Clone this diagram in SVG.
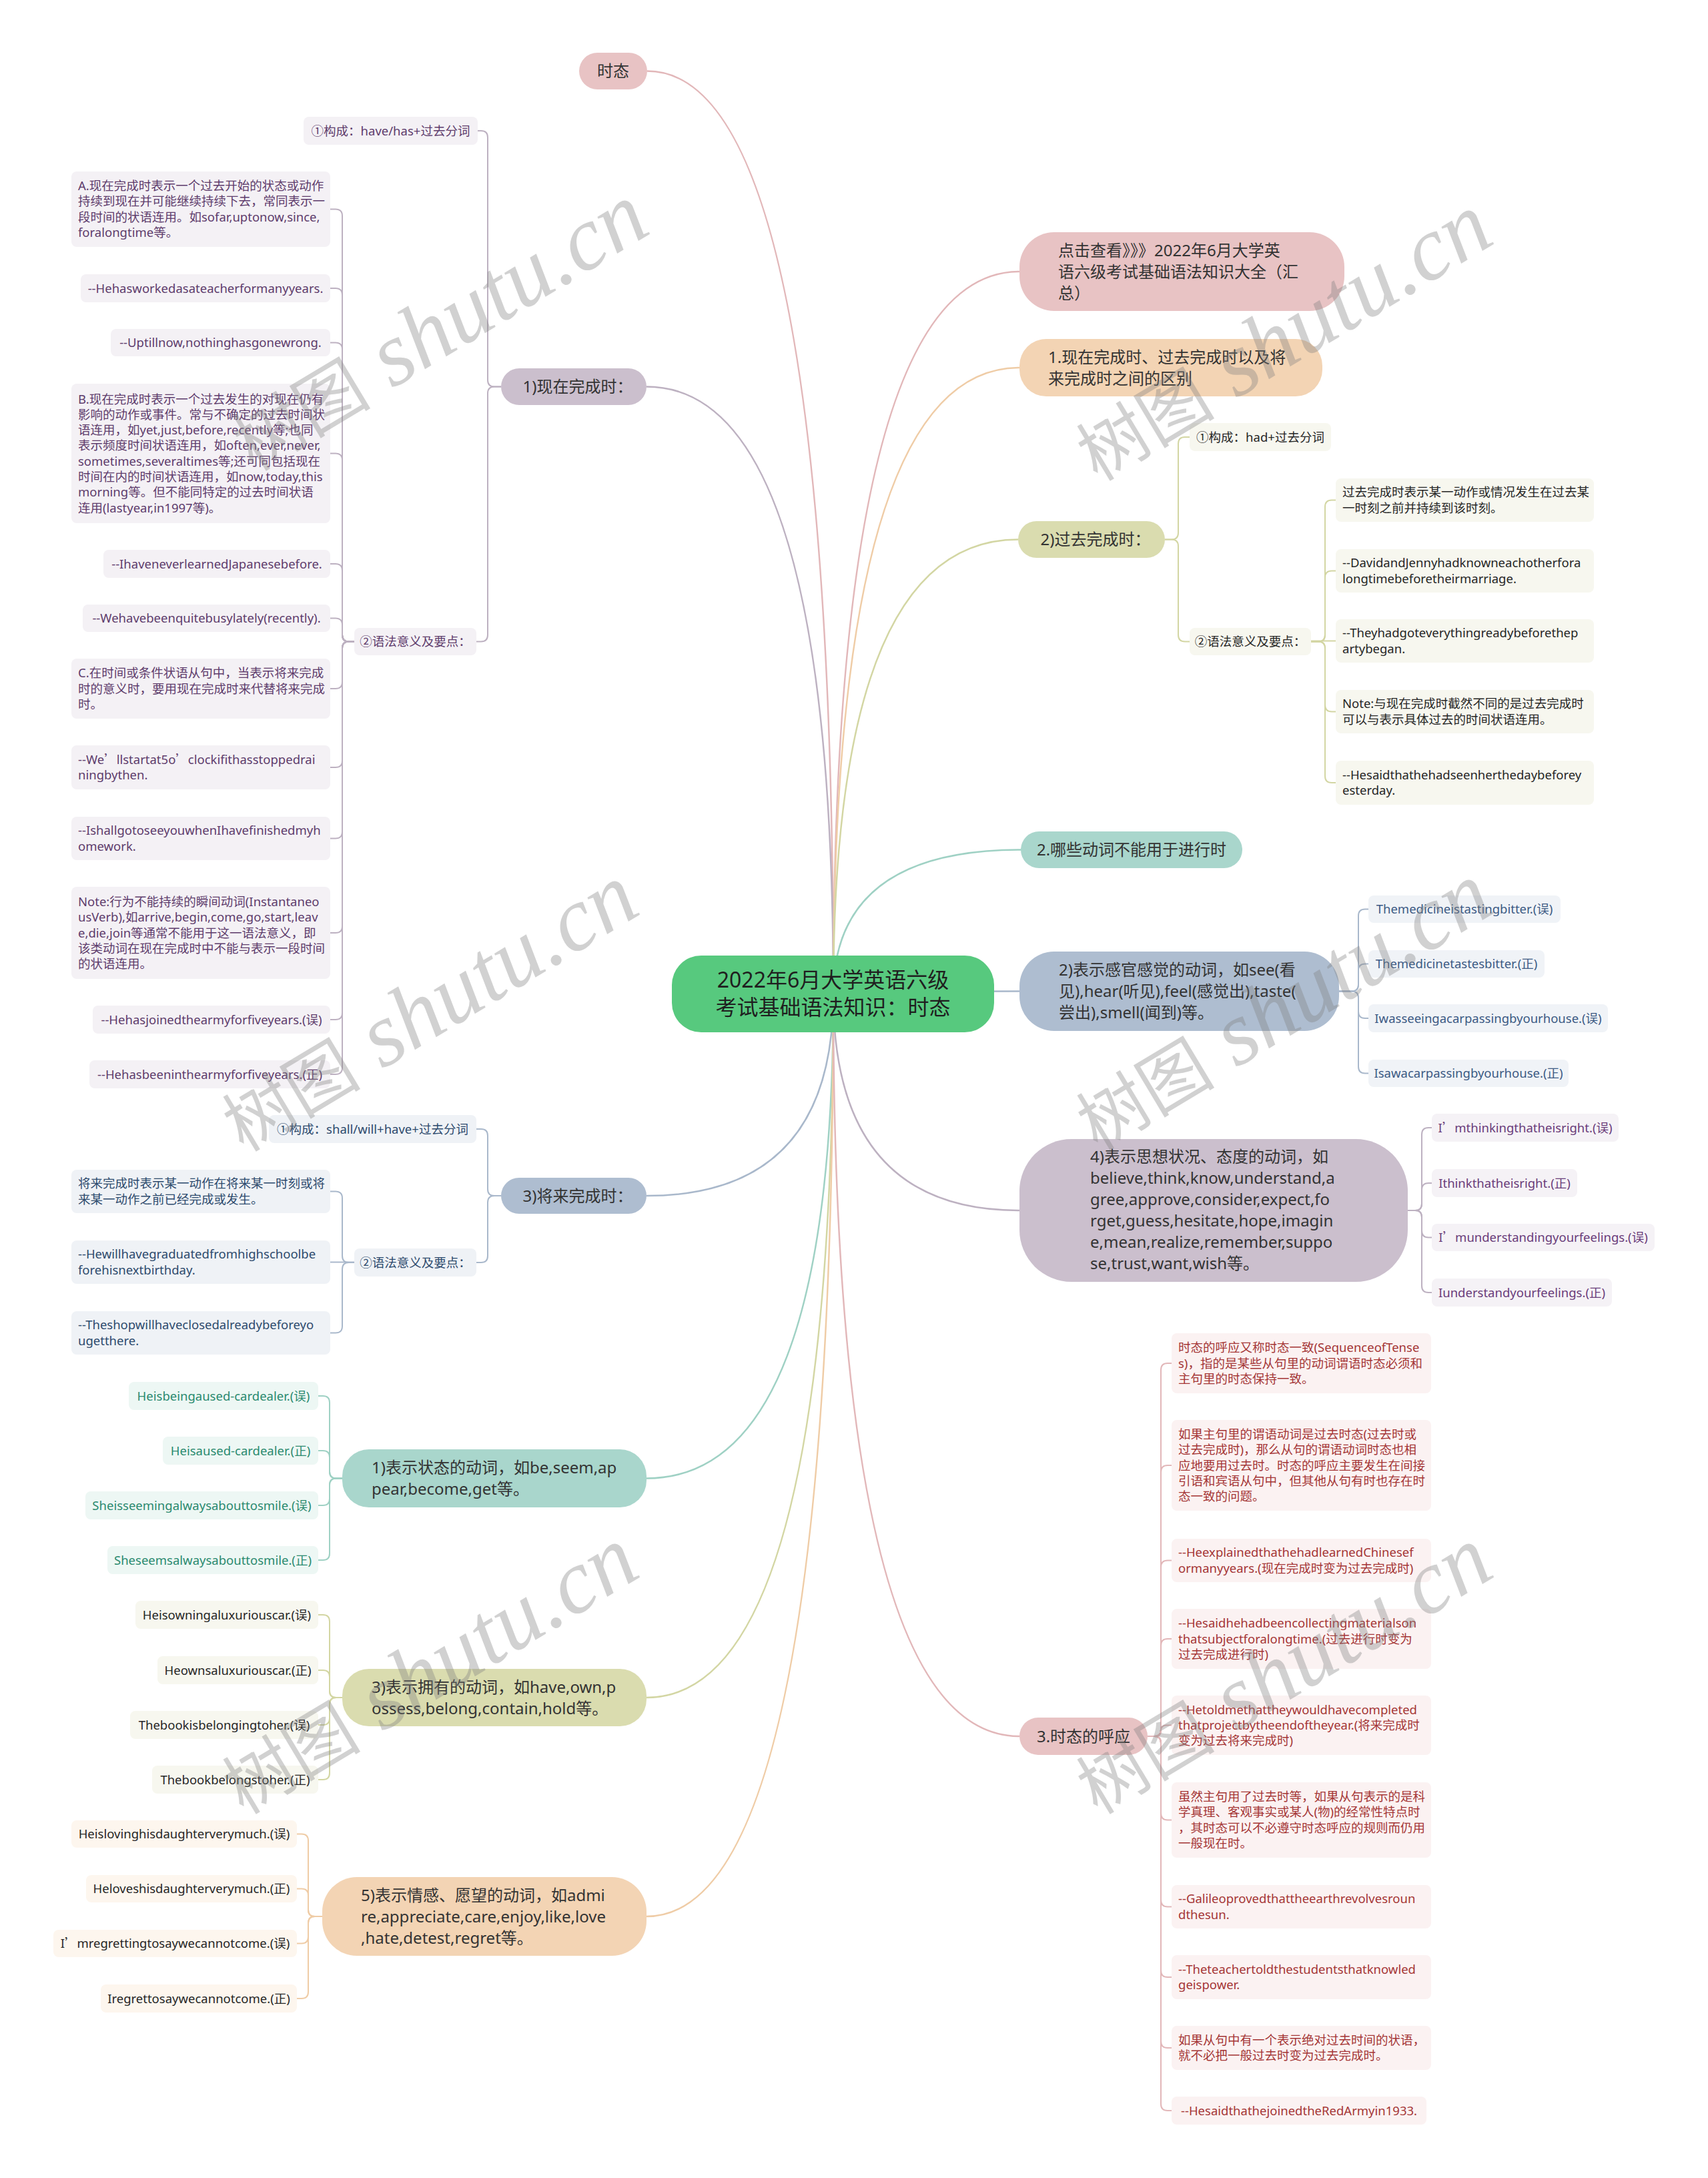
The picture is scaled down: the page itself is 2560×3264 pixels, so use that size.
<svg xmlns="http://www.w3.org/2000/svg" width="2560" height="3264" viewBox="0 0 2560 3264">
<style>
text{font-family:"Noto Sans","Noto Sans CJK SC",sans-serif}
.cj{font-family:"Noto Sans CJK SC",sans-serif}
.r{font-size:32px;fill:#1f1f1f;text-anchor:middle}
.m{font-size:24px;fill:#333}
.s{font-size:18.5px}
.mid{text-anchor:middle}
.ln{fill:none;stroke-width:2.5}
.sl{fill:none;stroke-width:2}
.f-root{fill:#57c97e}
.f-pink{fill:#e8c3c4}
.f-peach{fill:#f3d4b4}
.f-olive{fill:#dadcaf}
.f-teal{fill:#a9d6cc}
.f-slate{fill:#aebdd0}
.f-mauve{fill:#cbbfcd}
.l-pu{fill:#f4f1f5}.x-pu{fill:#5e3c6c}
.l-sl{fill:#eff2f6}.x-sl{fill:#2d4a6d}
.l-te{fill:#edf7f4}.x-te{fill:#2a8a6f}
.l-ol{fill:#f7f7ef}.x-dk{fill:#262626}
.l-pe{fill:#fdf6ee}
.l-s2{fill:#f0f3f7}.x-s2{fill:#3c5a84}
.l-mv{fill:#f5f2f6}.x-mv{fill:#6a3c7a}
.l-rd{fill:#fbf2f2}.x-rd{fill:#a53636}
.k-pink{stroke:#e2b7b9}.k-peach{stroke:#efcca6}.k-olive{stroke:#d3d6a3}.k-teal{stroke:#9fd1c4}.k-slate{stroke:#a9b8cb}.k-mauve{stroke:#bdb1c1}
.wm{fill:#808080;fill-opacity:.36}
.wa{font-family:"Noto Sans CJK SC",sans-serif;font-size:104px}
.wb{font-family:"Liberation Serif",serif;font-style:italic;font-size:136px}
</style>
<rect width="2560" height="3264" fill="#ffffff"/>

<g id="connectors">
  <path class="ln k-pink" d="M1249 1490 Q1249 106.5 970 106.5"/>
  <path class="ln k-mauve" d="M1249 1490 Q1249 579.5 969 579.5"/>
  <path class="ln k-slate" d="M1249 1490 Q1249 1792 969 1792"/>
  <path class="ln k-teal" d="M1249 1490 Q1249 2215.5 969 2215.5"/>
  <path class="ln k-olive" d="M1249 1490 Q1249 2544 969 2544"/>
  <path class="ln k-peach" d="M1249 1490 Q1249 2872 969 2872"/>
  <path class="ln k-pink" d="M1249 1490 Q1249 407 1528 407"/>
  <path class="ln k-peach" d="M1249 1490 Q1249 551 1528 551"/>
  <path class="ln k-olive" d="M1249 1490 Q1249 808.5 1526 808.5"/>
  <path class="ln k-teal" d="M1249 1490 Q1249 1273.5 1530 1273.5"/>
  <path class="ln k-slate" d="M1249 1490 Q1249 1485.5 1528 1485.5"/>
  <path class="ln k-mauve" d="M1249 1490 Q1249 1814 1528 1814"/>
  <path class="ln k-pink" d="M1249 1490 Q1249 2602 1528 2602"/>

  <path class="sl k-mauve" d="M751 579.5 H741 Q731 579.5 731 569.5 V206 Q731 196 721 196 H716"/>
  <path class="sl k-mauve" d="M751 579.5 H741 Q731 579.5 731 589.5 V951.5 Q731 961.5 721 961.5 H714"/>
  <path class="sl k-mauve" d="M531 961.5 H523 Q513 961.5 513 951.5 V323.5 Q513 313.5 503 313.5 H495"/>
  <path class="sl k-mauve" d="M531 961.5 H523 Q513 961.5 513 951.5 V442 Q513 432 503 432 H495"/>
  <path class="sl k-mauve" d="M531 961.5 H523 Q513 961.5 513 951.5 V523.5 Q513 513.5 503 513.5 H495"/>
  <path class="sl k-mauve" d="M531 961.5 H523 Q513 961.5 513 951.5 V689.5 Q513 679.5 503 679.5 H495"/>
  <path class="sl k-mauve" d="M531 961.5 H523 Q513 961.5 513 951.5 V855 Q513 845 503 845 H495"/>
  <path class="sl k-mauve" d="M531 961.5 H523 Q513 961.5 513 951.5 V936.5 Q513 926.5 503 926.5 H495"/>
  <path class="sl k-mauve" d="M531 961.5 H523 Q513 961.5 513 971.5 V1022 Q513 1032 503 1032 H495"/>
  <path class="sl k-mauve" d="M531 961.5 H523 Q513 961.5 513 971.5 V1140 Q513 1150 503 1150 H495"/>
  <path class="sl k-mauve" d="M531 961.5 H523 Q513 961.5 513 971.5 V1246.5 Q513 1256.5 503 1256.5 H495"/>
  <path class="sl k-mauve" d="M531 961.5 H523 Q513 961.5 513 971.5 V1388 Q513 1398 503 1398 H495"/>
  <path class="sl k-mauve" d="M531 961.5 H523 Q513 961.5 513 971.5 V1518 Q513 1528 503 1528 H495"/>
  <path class="sl k-mauve" d="M531 961.5 H523 Q513 961.5 513 971.5 V1600 Q513 1610 503 1610 H495"/>

  <path class="sl k-slate" d="M751 1792 H741 Q731 1792 731 1782 V1702 Q731 1692 721 1692 H714"/>
  <path class="sl k-slate" d="M751 1792 H741 Q731 1792 731 1802 V1882 Q731 1892 721 1892 H714"/>
  <path class="sl k-slate" d="M531 1892 H523 Q513 1892 513 1882 V1795.5 Q513 1785.5 503 1785.5 H495"/>
  <path class="sl k-slate" d="M531 1891.5 H495"/>
  <path class="sl k-slate" d="M531 1892 H523 Q513 1892 513 1902 V1987.5 Q513 1997.5 503 1997.5 H495"/>

  <path class="sl k-teal" d="M513 2215.5 H504 Q494 2215.5 494 2205.5 V2102 Q494 2092 484 2092 H477"/>
  <path class="sl k-teal" d="M513 2215.5 H504 Q494 2215.5 494 2205.5 V2184 Q494 2174 484 2174 H477"/>
  <path class="sl k-teal" d="M513 2215.5 H504 Q494 2215.5 494 2225.5 V2246 Q494 2256 484 2256 H477"/>
  <path class="sl k-teal" d="M513 2215.5 H504 Q494 2215.5 494 2225.5 V2328 Q494 2338 484 2338 H477"/>

  <path class="sl k-olive" d="M513 2544 H504 Q494 2544 494 2534 V2430 Q494 2420 484 2420 H477"/>
  <path class="sl k-olive" d="M513 2544 H504 Q494 2544 494 2534 V2513 Q494 2503 484 2503 H477"/>
  <path class="sl k-olive" d="M513 2544 H504 Q494 2544 494 2554 V2575 Q494 2585 484 2585 H477"/>
  <path class="sl k-olive" d="M513 2544 H504 Q494 2544 494 2554 V2657 Q494 2667 484 2667 H477"/>

  <path class="sl k-peach" d="M483 2872 H472 Q462 2872 462 2862 V2758.5 Q462 2748.5 452 2748.5 H445"/>
  <path class="sl k-peach" d="M483 2872 H472 Q462 2872 462 2862 V2840.5 Q462 2830.5 452 2830.5 H445"/>
  <path class="sl k-peach" d="M483 2872 H472 Q462 2872 462 2882 V2902.5 Q462 2912.5 452 2912.5 H445"/>
  <path class="sl k-peach" d="M483 2872 H472 Q462 2872 462 2882 V2985 Q462 2995 452 2995 H445"/>

  <path class="sl k-olive" d="M1746 808.5 H1756 Q1766 808.5 1766 798.5 V665 Q1766 655 1776 655 H1783"/>
  <path class="sl k-olive" d="M1746 808.5 H1756 Q1766 808.5 1766 818.5 V951.5 Q1766 961.5 1776 961.5 H1783"/>
  <path class="sl k-olive" d="M1965 961.5 H1976 Q1986 961.5 1986 951.5 V759.5 Q1986 749.5 1996 749.5 H2002"/>
  <path class="sl k-olive" d="M1965 961.5 H1976 Q1986 961.5 1986 951.5 V865.5 Q1986 855.5 1996 855.5 H2002"/>
  <path class="sl k-olive" d="M1965 960.5 H2002"/>
  <path class="sl k-olive" d="M1965 961.5 H1976 Q1986 961.5 1986 971.5 V1056.5 Q1986 1066.5 1996 1066.5 H2002"/>
  <path class="sl k-olive" d="M1965 961.5 H1976 Q1986 961.5 1986 971.5 V1163 Q1986 1173 1996 1173 H2002"/>

  <path class="sl k-slate" d="M2007 1485.5 H2026 Q2036 1485.5 2036 1475.5 V1372.5 Q2036 1362.5 2046 1362.5 H2051"/>
  <path class="sl k-slate" d="M2007 1485.5 H2026 Q2036 1485.5 2036 1475.5 V1454.5 Q2036 1444.5 2046 1444.5 H2051"/>
  <path class="sl k-slate" d="M2007 1485.5 H2026 Q2036 1485.5 2036 1495.5 V1516 Q2036 1526 2046 1526 H2051"/>
  <path class="sl k-slate" d="M2007 1485.5 H2026 Q2036 1485.5 2036 1495.5 V1598.5 Q2036 1608.5 2046 1608.5 H2051"/>

  <path class="sl k-mauve" d="M2110 1814 H2121 Q2131 1814 2131 1804 V1700 Q2131 1690 2141 1690 H2146"/>
  <path class="sl k-mauve" d="M2110 1814 H2121 Q2131 1814 2131 1804 V1783 Q2131 1773 2141 1773 H2146"/>
  <path class="sl k-mauve" d="M2110 1814 H2121 Q2131 1814 2131 1824 V1844.5 Q2131 1854.5 2141 1854.5 H2146"/>
  <path class="sl k-mauve" d="M2110 1814 H2121 Q2131 1814 2131 1824 V1927 Q2131 1937 2141 1937 H2146"/>

  <path class="sl k-pink" d="M1720 2602 H1730 Q1740 2602 1740 2592 V2053 Q1740 2043 1750 2043 H1756"/>
  <path class="sl k-pink" d="M1720 2602 H1730 Q1740 2602 1740 2592 V2206 Q1740 2196 1750 2196 H1756"/>
  <path class="sl k-pink" d="M1720 2602 H1730 Q1740 2602 1740 2592 V2348.5 Q1740 2338.5 1750 2338.5 H1756"/>
  <path class="sl k-pink" d="M1720 2602 H1730 Q1740 2602 1740 2592 V2466 Q1740 2456 1750 2456 H1756"/>
  <path class="sl k-pink" d="M1720 2602 H1732 Q1740 2602 1740 2594 Q1740 2585.5 1748 2585.5 H1756"/>
  <path class="sl k-pink" d="M1720 2602 H1730 Q1740 2602 1740 2612 V2717.5 Q1740 2727.5 1750 2727.5 H1756"/>
  <path class="sl k-pink" d="M1720 2602 H1730 Q1740 2602 1740 2612 V2847.5 Q1740 2857.5 1750 2857.5 H1756"/>
  <path class="sl k-pink" d="M1720 2602 H1730 Q1740 2602 1740 2612 V2953 Q1740 2963 1750 2963 H1756"/>
  <path class="sl k-pink" d="M1720 2602 H1730 Q1740 2602 1740 2612 V3059 Q1740 3069 1750 3069 H1756"/>
  <path class="sl k-pink" d="M1720 2602 H1730 Q1740 2602 1740 2612 V3153 Q1740 3163 1750 3163 H1756"/>
</g>

<g id="root">
  <rect class="f-root" x="1007" y="1432" width="483" height="115" rx="44"/>
  <text class="r" x="1248.5" y="1480">2022年6月大学英语六级</text>
  <text class="r" x="1248.5" y="1521">考试基础语法知识：时态</text>
</g>

<g id="n-shitai">
  <rect class="f-pink" x="868" y="79" width="102" height="55" rx="27.5"/>
  <text class="m mid" x="919" y="115">时态</text>
</g>
<g id="n-xianzai">
  <rect class="f-mauve" x="751" y="552" width="218" height="55" rx="27.5"/>
  <text class="m mid" x="866" y="588">1)现在完成时：</text>
</g>
<g id="n-jianglai">
  <rect class="f-slate" x="751" y="1765" width="218" height="54" rx="27"/>
  <text class="m mid" x="866" y="1800.5">3)将来完成时：</text>
</g>
<g id="n-zhuangtai">
  <rect class="f-teal" x="513" y="2172" width="456" height="87" rx="40"/>
  <text class="m" x="557" y="2208">1)表示状态的动词，如be,seem,ap</text>
  <text class="m" x="557" y="2240">pear,become,get等。</text>
</g>
<g id="n-yongyou">
  <rect class="f-olive" x="513" y="2501" width="456" height="86" rx="40"/>
  <text class="m" x="557" y="2536.5">3)表示拥有的动词，如have,own,p</text>
  <text class="m" x="557" y="2568.5">ossess,belong,contain,hold等。</text>
</g>
<g id="n-qinggan">
  <rect class="f-peach" x="483" y="2813" width="486" height="118" rx="52"/>
  <text class="m" x="541" y="2848.5">5)表示情感、愿望的动词，如admi</text>
  <text class="m" x="541" y="2880.5">re,appreciate,care,enjoy,like,love</text>
  <text class="m" x="541" y="2912.5">,hate,detest,regret等。</text>
</g>
<g id="n-dianji">
  <rect class="f-pink" x="1528" y="348" width="487" height="118" rx="52"/>
  <text class="m" x="1586" y="383.5">点击查看》》》2022年6月大学英</text>
  <text class="m" x="1586" y="415.5">语六级考试基础语法知识大全（汇</text>
  <text class="m" x="1586" y="447.5">总）</text>
</g>
<g id="n-qubie">
  <rect class="f-peach" x="1528" y="508" width="454" height="86" rx="40"/>
  <text class="m" x="1571" y="543.5">1.现在完成时、过去完成时以及将</text>
  <text class="m" x="1571" y="575.5">来完成时之间的区别</text>
</g>
<g id="n-guoqu">
  <rect class="f-olive" x="1526" y="781" width="220" height="55" rx="27.5"/>
  <text class="m mid" x="1642" y="817">2)过去完成时：</text>
</g>
<g id="n-naxie">
  <rect class="f-teal" x="1530" y="1246" width="332" height="55" rx="27.5"/>
  <text class="m mid" x="1696" y="1282">2.哪些动词不能用于进行时</text>
</g>
<g id="n-ganguan">
  <rect class="f-slate" x="1528" y="1426" width="479" height="119" rx="52"/>
  <text class="m" x="1587" y="1462">2)表示感官感觉的动词，如see(看</text>
  <text class="m" x="1587" y="1494">见),hear(听见),feel(感觉出),taste(</text>
  <text class="m" x="1587" y="1526">尝出),smell(闻到)等。</text>
</g>
<g id="n-sixiang">
  <rect class="f-mauve" x="1528" y="1707" width="582" height="214" rx="78"/>
  <text class="m" x="1634" y="1742.4">4)表示思想状况、态度的动词，如</text>
  <text class="m" x="1634" y="1774.4">believe,think,know,understand,a</text>
  <text class="m" x="1634" y="1806.4">gree,approve,consider,expect,fo</text>
  <text class="m" x="1634" y="1838.4">rget,guess,hesitate,hope,imagin</text>
  <text class="m" x="1634" y="1870.4">e,mean,realize,remember,suppo</text>
  <text class="m" x="1634" y="1902.4">se,trust,want,wish等。</text>
</g>
<g id="n-huying">
  <rect class="f-pink" x="1528" y="2574" width="192" height="56" rx="28"/>
  <text class="m mid" x="1624" y="2610.5">3.时态的呼应</text>
</g>

<g id="n-xz-gc"><rect class="l-pu" x="455" y="175" width="261" height="42" rx="8"/><text class="s x-pu mid" x="585.5" y="202.5">①构成：have/has+过去分词</text></g>
<g id="n-xz-yf"><rect class="l-pu" x="531" y="941" width="183" height="41" rx="8"/><text class="s x-pu mid" x="622.5" y="968">②语法意义及要点：</text></g>
<g id="n-xz-a"><rect class="l-pu" x="107" y="257" width="388" height="113" rx="8"/>
  <text class="s x-pu" x="117" y="285">A.现在完成时表示一个过去开始的状态或动作</text>
  <text class="s x-pu" x="117" y="308.4">持续到现在并可能继续持续下去，常同表示一</text>
  <text class="s x-pu" x="117" y="331.7">段时间的状语连用。如sofar,uptonow,since,</text>
  <text class="s x-pu" x="117" y="355">foralongtime等。</text></g>
<g id="n-xz-b"><rect class="l-pu" x="121" y="411" width="374" height="42" rx="8"/><text class="s x-pu mid" x="308" y="438.5">--Hehasworkedasateacherformanyyears.</text></g>
<g id="n-xz-c"><rect class="l-pu" x="166" y="493" width="329" height="41" rx="8"/><text class="s x-pu mid" x="330.5" y="520">--Uptillnow,nothinghasgonewrong.</text></g>
<g id="n-xz-bb"><rect class="l-pu" x="107" y="575" width="388" height="209" rx="8"/>
  <text class="s x-pu" x="117" y="604.5">B.现在完成时表示一个过去发生的对现在仍有</text>
  <text class="s x-pu" x="117" y="627.8">影响的动作或事件。常与不确定的过去时间状</text>
  <text class="s x-pu" x="117" y="651.1">语连用，如yet,just,before,recently等;也同</text>
  <text class="s x-pu" x="117" y="674.4">表示频度时间状语连用，如often,ever,never,</text>
  <text class="s x-pu" x="117" y="697.7">sometimes,severaltimes等;还可同包括现在</text>
  <text class="s x-pu" x="117" y="721">时间在内的时间状语连用，如now,today,this</text>
  <text class="s x-pu" x="117" y="744.3">morning等。但不能同特定的过去时间状语</text>
  <text class="s x-pu" x="117" y="767.6">连用(lastyear,in1997等)。</text></g>
<g id="n-xz-e"><rect class="l-pu" x="155" y="824" width="340" height="42" rx="8"/><text class="s x-pu mid" x="325" y="851.5">--IhaveneverlearnedJapanesebefore.</text></g>
<g id="n-xz-f"><rect class="l-pu" x="124" y="906" width="371" height="41" rx="8"/><text class="s x-pu mid" x="309.5" y="933">--Wehavebeenquitebusylately(recently).</text></g>
<g id="n-xz-cc"><rect class="l-pu" x="107" y="987" width="388" height="90" rx="8"/>
  <text class="s x-pu" x="117" y="1015.2">C.在时间或条件状语从句中，当表示将来完成</text>
  <text class="s x-pu" x="117" y="1038.5">时的意义时，要用现在完成时来代替将来完成</text>
  <text class="s x-pu" x="117" y="1061.8">时。</text></g>
<g id="n-xz-h"><rect class="l-pu" x="107" y="1117" width="388" height="66" rx="8"/>
  <text class="s x-pu" x="117" y="1144.9">--We<tspan class="cj">’</tspan>llstartat5o<tspan class="cj">’</tspan>clockifithasstoppedrai</text>
  <text class="s x-pu" x="117" y="1168.2">ningbythen.</text></g>
<g id="n-xz-i"><rect class="l-pu" x="107" y="1224" width="388" height="65" rx="8"/>
  <text class="s x-pu" x="117" y="1251.4">--IshallgotoseeyouwhenIhavefinishedmyh</text>
  <text class="s x-pu" x="117" y="1274.7">omework.</text></g>
<g id="n-xz-note"><rect class="l-pu" x="107" y="1329" width="388" height="138" rx="8"/>
  <text class="s x-pu" x="117" y="1357.9">Note:行为不能持续的瞬间动词(Instantaneo</text>
  <text class="s x-pu" x="117" y="1381.2">usVerb),如arrive,begin,come,go,start,leav</text>
  <text class="s x-pu" x="117" y="1404.5">e,die,join等通常不能用于这一语法意义，即</text>
  <text class="s x-pu" x="117" y="1427.8">该类动词在现在完成时中不能与表示一段时间</text>
  <text class="s x-pu" x="117" y="1451.1">的状语连用。</text></g>
<g id="n-xz-k"><rect class="l-pu" x="139" y="1507" width="356" height="42" rx="8"/><text class="s x-pu mid" x="317" y="1534.5">--Hehasjoinedthearmyforfiveyears.(误)</text></g>
<g id="n-xz-l"><rect class="l-pu" x="134" y="1589" width="361" height="42" rx="8"/><text class="s x-pu mid" x="314.5" y="1616.5">--Hehasbeeninthearmyforfiveyears.(正)</text></g>

<g id="n-jl-gc"><rect class="l-sl" x="403" y="1671" width="311" height="42" rx="8"/><text class="s x-sl mid" x="558.5" y="1698.5">①构成：shall/will+have+过去分词</text></g>
<g id="n-jl-yf"><rect class="l-sl" x="531" y="1871" width="183" height="42" rx="8"/><text class="s x-sl mid" x="622.5" y="1898.5">②语法意义及要点：</text></g>
<g id="n-jl-a"><rect class="l-sl" x="107" y="1753" width="388" height="65" rx="8"/>
  <text class="s x-sl" x="117" y="1780.4">将来完成时表示某一动作在将来某一时刻或将</text>
  <text class="s x-sl" x="117" y="1803.7">来某一动作之前已经完成或发生。</text></g>
<g id="n-jl-b"><rect class="l-sl" x="107" y="1859" width="388" height="65" rx="8"/>
  <text class="s x-sl" x="117" y="1886.4">--Hewillhavegraduatedfromhighschoolbe</text>
  <text class="s x-sl" x="117" y="1909.7">forehisnextbirthday.</text></g>
<g id="n-jl-c"><rect class="l-sl" x="107" y="1965" width="388" height="65" rx="8"/>
  <text class="s x-sl" x="117" y="1992.4">--Theshopwillhaveclosedalreadybeforeyo</text>
  <text class="s x-sl" x="117" y="2015.7">ugetthere.</text></g>

<g id="n-zt-1"><rect class="l-te" x="193" y="2071" width="284" height="42" rx="8"/><text class="s x-te mid" x="335" y="2098.5">Heisbeingaused-cardealer.(误)</text></g>
<g id="n-zt-2"><rect class="l-te" x="244" y="2153" width="233" height="42" rx="8"/><text class="s x-te mid" x="360.5" y="2180.5">Heisaused-cardealer.(正)</text></g>
<g id="n-zt-3"><rect class="l-te" x="128" y="2235" width="349" height="42" rx="8"/><text class="s x-te mid" x="302.5" y="2262.5">Sheisseemingalwaysabouttosmile.(误)</text></g>
<g id="n-zt-4"><rect class="l-te" x="161" y="2317" width="316" height="42" rx="8"/><text class="s x-te mid" x="319" y="2344.5">Sheseemsalwaysabouttosmile.(正)</text></g>

<g id="n-yy-1"><rect class="l-ol" x="203" y="2399" width="274" height="42" rx="8"/><text class="s x-dk mid" x="340" y="2426.5">Heisowningaluxuriouscar.(误)</text></g>
<g id="n-yy-2"><rect class="l-ol" x="236" y="2482" width="241" height="42" rx="8"/><text class="s x-dk mid" x="356.5" y="2509.5">Heownsaluxuriouscar.(正)</text></g>
<g id="n-yy-3"><rect class="l-ol" x="195" y="2564" width="282" height="42" rx="8"/><text class="s x-dk mid" x="336" y="2591.5">Thebookisbelongingtoher.(误)</text></g>
<g id="n-yy-4"><rect class="l-ol" x="228" y="2646" width="249" height="42" rx="8"/><text class="s x-dk mid" x="352.5" y="2673.5">Thebookbelongstoher.(正)</text></g>

<g id="n-qg-1"><rect class="l-pe" x="107" y="2728" width="338" height="41" rx="8"/><text class="s x-dk mid" x="276" y="2755">Heislovinghisdaughterverymuch.(误)</text></g>
<g id="n-qg-2"><rect class="l-pe" x="129" y="2810" width="316" height="41" rx="8"/><text class="s x-dk mid" x="287" y="2837">Heloveshisdaughterverymuch.(正)</text></g>
<g id="n-qg-3"><rect class="l-pe" x="80" y="2892" width="365" height="41" rx="8"/><text class="s x-dk mid" x="262.5" y="2919">I<tspan class="cj">’</tspan>mregrettingtosaywecannotcome.(误)</text></g>
<g id="n-qg-4"><rect class="l-pe" x="151" y="2974" width="294" height="42" rx="8"/><text class="s x-dk mid" x="298" y="3001.5">Iregrettosaywecannotcome.(正)</text></g>

<g id="n-gq-gc"><rect class="l-ol" x="1783" y="634" width="212" height="42" rx="8"/><text class="s x-dk mid" x="1889" y="661.5">①构成：had+过去分词</text></g>
<g id="n-gq-yf"><rect class="l-ol" x="1783" y="941" width="182" height="41" rx="8"/><text class="s x-dk mid" x="1874" y="968">②语法意义及要点：</text></g>
<g id="n-gq-1"><rect class="l-ol" x="2002" y="717" width="387" height="65" rx="8"/>
  <text class="s x-dk" x="2012" y="744.4">过去完成时表示某一动作或情况发生在过去某</text>
  <text class="s x-dk" x="2012" y="767.7">一时刻之前并持续到该时刻。</text></g>
<g id="n-gq-2"><rect class="l-ol" x="2002" y="823" width="387" height="65" rx="8"/>
  <text class="s x-dk" x="2012" y="850.4">--DavidandJennyhadknowneachotherfora</text>
  <text class="s x-dk" x="2012" y="873.7">longtimebeforetheirmarriage.</text></g>
<g id="n-gq-3"><rect class="l-ol" x="2002" y="928" width="387" height="65" rx="8"/>
  <text class="s x-dk" x="2012" y="955.4">--Theyhadgoteverythingreadybeforethep</text>
  <text class="s x-dk" x="2012" y="978.7">artybegan.</text></g>
<g id="n-gq-4"><rect class="l-ol" x="2002" y="1034" width="387" height="65" rx="8"/>
  <text class="s x-dk" x="2012" y="1061.4">Note:与现在完成时截然不同的是过去完成时</text>
  <text class="s x-dk" x="2012" y="1084.7">可以与表示具体过去的时间状语连用。</text></g>
<g id="n-gq-5"><rect class="l-ol" x="2002" y="1140" width="387" height="66" rx="8"/>
  <text class="s x-dk" x="2012" y="1167.9">--Hesaidthathehadseenherthedaybeforey</text>
  <text class="s x-dk" x="2012" y="1191.2">esterday.</text></g>

<g id="n-gg-1"><rect class="l-s2" x="2051" y="1342" width="288" height="41" rx="8"/><text class="s x-s2 mid" x="2195" y="1369">Themedicineistastingbitter.(误)</text></g>
<g id="n-gg-2"><rect class="l-s2" x="2051" y="1424" width="264" height="41" rx="8"/><text class="s x-s2 mid" x="2183" y="1451">Themedicinetastesbitter.(正)</text></g>
<g id="n-gg-3"><rect class="l-s2" x="2051" y="1505" width="359" height="42" rx="8"/><text class="s x-s2 mid" x="2230.5" y="1532.5">Iwasseeingacarpassingbyourhouse.(误)</text></g>
<g id="n-gg-4"><rect class="l-s2" x="2051" y="1588" width="300" height="41" rx="8"/><text class="s x-s2 mid" x="2201" y="1615">Isawacarpassingbyourhouse.(正)</text></g>

<g id="n-sx-1"><rect class="l-mv" x="2146" y="1669" width="280" height="42" rx="8"/><text class="s x-mv mid" x="2286" y="1696.5">I<tspan class="cj">’</tspan>mthinkingthatheisright.(误)</text></g>
<g id="n-sx-2"><rect class="l-mv" x="2146" y="1752" width="218" height="42" rx="8"/><text class="s x-mv mid" x="2255" y="1779.5">Ithinkthatheisright.(正)</text></g>
<g id="n-sx-3"><rect class="l-mv" x="2146" y="1834" width="334" height="41" rx="8"/><text class="s x-mv mid" x="2313" y="1861">I<tspan class="cj">’</tspan>munderstandingyourfeelings.(误)</text></g>
<g id="n-sx-4"><rect class="l-mv" x="2146" y="1916" width="270" height="42" rx="8"/><text class="s x-mv mid" x="2281" y="1943.5">Iunderstandyourfeelings.(正)</text></g>

<g id="n-hy-1"><rect class="l-rd" x="1756" y="1998" width="389" height="90" rx="8"/>
  <text class="s x-rd" x="1766" y="2026.2">时态的呼应又称时态一致(SequenceofTense</text>
  <text class="s x-rd" x="1766" y="2049.5">s)，指的是某些从句里的动词谓语时态必须和</text>
  <text class="s x-rd" x="1766" y="2072.8">主句里的时态保持一致。</text></g>
<g id="n-hy-2"><rect class="l-rd" x="1756" y="2128" width="389" height="136" rx="8"/>
  <text class="s x-rd" x="1766" y="2155.9">如果主句里的谓语动词是过去时态(过去时或</text>
  <text class="s x-rd" x="1766" y="2179.2">过去完成时)，那么从句的谓语动词时态也相</text>
  <text class="s x-rd" x="1766" y="2202.5">应地要用过去时。时态的呼应主要发生在间接</text>
  <text class="s x-rd" x="1766" y="2225.8">引语和宾语从句中，但其他从句有时也存在时</text>
  <text class="s x-rd" x="1766" y="2249.1">态一致的问题。</text></g>
<g id="n-hy-3"><rect class="l-rd" x="1756" y="2306" width="389" height="65" rx="8"/>
  <text class="s x-rd" x="1766" y="2333.4">--HeexplainedthathehadlearnedChinesef</text>
  <text class="s x-rd" x="1766" y="2356.7">ormanyyears.(现在完成时变为过去完成时)</text></g>
<g id="n-hy-4"><rect class="l-rd" x="1756" y="2411" width="389" height="90" rx="8"/>
  <text class="s x-rd" x="1766" y="2439.2">--Hesaidhehadbeencollectingmaterialson</text>
  <text class="s x-rd" x="1766" y="2462.5">thatsubjectforalongtime.(过去进行时变为</text>
  <text class="s x-rd" x="1766" y="2485.8">过去完成进行时)</text></g>
<g id="n-hy-5"><rect class="l-rd" x="1756" y="2541" width="389" height="89" rx="8"/>
  <text class="s x-rd" x="1766" y="2568.7">--Hetoldmethattheywouldhavecompleted</text>
  <text class="s x-rd" x="1766" y="2592">thatprojectbytheendoftheyear.(将来完成时</text>
  <text class="s x-rd" x="1766" y="2615.3">变为过去将来完成时)</text></g>
<g id="n-hy-6"><rect class="l-rd" x="1756" y="2671" width="389" height="113" rx="8"/>
  <text class="s x-rd" x="1766" y="2699">虽然主句用了过去时等，如果从句表示的是科</text>
  <text class="s x-rd" x="1766" y="2722.3">学真理、客观事实或某人(物)的经常性特点时</text>
  <text class="s x-rd" x="1766" y="2745.6">，其时态可以不必遵守时态呼应的规则而仍用</text>
  <text class="s x-rd" x="1766" y="2768.9">一般现在时。</text></g>
<g id="n-hy-7"><rect class="l-rd" x="1756" y="2825" width="389" height="65" rx="8"/>
  <text class="s x-rd" x="1766" y="2852.4">--Galileoprovedthattheearthrevolvesroun</text>
  <text class="s x-rd" x="1766" y="2875.7">dthesun.</text></g>
<g id="n-hy-8"><rect class="l-rd" x="1756" y="2930" width="389" height="66" rx="8"/>
  <text class="s x-rd" x="1766" y="2957.9">--Theteachertoldthestudentsthatknowled</text>
  <text class="s x-rd" x="1766" y="2981.2">geispower.</text></g>
<g id="n-hy-9"><rect class="l-rd" x="1756" y="3036" width="389" height="66" rx="8"/>
  <text class="s x-rd" x="1766" y="3063.9">如果从句中有一个表示绝对过去时间的状语，</text>
  <text class="s x-rd" x="1766" y="3087.2">就不必把一般过去时变为过去完成时。</text></g>
<g id="n-hy-10"><rect class="l-rd" x="1756" y="3142" width="382" height="42" rx="8"/><text class="s x-rd mid" x="1947" y="3169.5">--HesaidthathejoinedtheRedArmyin1933.</text></g>

<g id="watermarks" class="wm">
  <text transform="translate(660 495) rotate(-31)" x="0" y="38" text-anchor="middle"><tspan class="wa">树图</tspan><tspan class="wb"> shutu.cn</tspan></text>
  <text transform="translate(1925 510) rotate(-31)" x="0" y="38" text-anchor="middle"><tspan class="wa">树图</tspan><tspan class="wb"> shutu.cn</tspan></text>
  <text transform="translate(645 1515) rotate(-31)" x="0" y="38" text-anchor="middle"><tspan class="wa">树图</tspan><tspan class="wb"> shutu.cn</tspan></text>
  <text transform="translate(1925 1513) rotate(-31)" x="0" y="38" text-anchor="middle"><tspan class="wa">树图</tspan><tspan class="wb"> shutu.cn</tspan></text>
  <text transform="translate(645 2508) rotate(-31)" x="0" y="38" text-anchor="middle"><tspan class="wa">树图</tspan><tspan class="wb"> shutu.cn</tspan></text>
  <text transform="translate(1925 2508) rotate(-31)" x="0" y="38" text-anchor="middle"><tspan class="wa">树图</tspan><tspan class="wb"> shutu.cn</tspan></text>
</g>
</svg>
